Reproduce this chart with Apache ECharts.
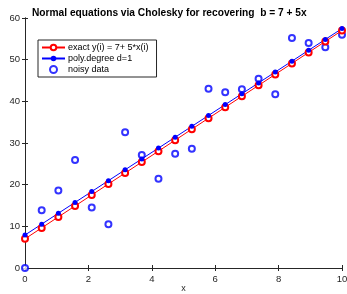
<!DOCTYPE html>
<html><head><meta charset="utf-8">
<script src="https://cdn.jsdelivr.net/npm/echarts@6/dist/echarts.min.js"></script>
<style>html,body{margin:0;padding:0;background:#fff}#c{width:347px;height:294px}</style>
</head><body><div id="c"></div>
<script>
const xs = [0, 0.5263, 1.0526, 1.5789, 2.1053, 2.6316, 3.1579, 3.6842, 4.2105, 4.7368, 5.2632, 5.7895, 6.3158, 6.8421, 7.3684, 7.8947, 8.4211, 8.9474, 9.4737, 10];
const exactY = [7, 9.63, 12.26, 14.89, 17.53, 20.16, 22.79, 25.42, 28.05, 30.68, 33.32, 35.95, 38.58, 41.21, 43.84, 46.47, 49.11, 51.74, 54.37, 57];
const fitY = [7.92, 10.53, 13.14, 15.74, 18.35, 20.96, 23.57, 26.18, 28.78, 31.39, 34.00, 36.61, 39.22, 41.82, 44.43, 47.04, 49.65, 52.26, 54.86, 57.47];
const noisyY = [0, 13.85, 18.6, 25.9, 14.5, 10.5, 32.6, 27.1, 21.4, 27.4, 28.6, 43.0, 42.2, 42.9, 45.4, 41.7, 55.2, 54.0, 53.0, 56.0];
const seriesNames = ['exact y(i) = 7+ 5*x(i)', 'poly.degree d=1', 'noisy data'];
const titleText = 'Normal equations via Cholesky for recovering  b = 7 + 5x';

const pairs = ys => xs.map((x, i) => [x, ys[i]]);
const axisCol = '#262626';
const font = 'Liberation Sans, Arial, sans-serif';

const chart = echarts.init(document.getElementById('c'));
chart.setOption({
  animation: false,
  title: { text: titleText, left: 27, top: 3, textStyle: { fontSize: 10.2, fontWeight: 'bold', color: '#000', fontFamily: font } },
  grid: { left: 25, right: 5, top: 18, bottom: 26, outerBoundsMode: 'none', containLabel: false },
  legend: {
    orient: 'vertical', left: 38, top: 40, itemGap: 2, itemWidth: 23, itemHeight: 7,
    borderColor: '#262626', borderWidth: 1, padding: [3, 8, 3, 3], backgroundColor: '#fff',
    textStyle: { fontSize: 9, color: '#000', fontFamily: font, padding: [0, 0, 0, -2] },
    data: seriesNames
  },
  xAxis: [
    { type: 'value', min: 0, max: 10, interval: 2, name: 'x', nameLocation: 'middle', nameGap: 16, nameMoveOverlap: false,
      nameTextStyle: { fontSize: 9, color: axisCol, fontFamily: font, verticalAlign: 'top' },
      axisLine: { lineStyle: { color: axisCol, width: 1 } }, axisTick: { inside: true, length: 3, lineStyle: { color: axisCol } },
      axisLabel: { fontSize: 9.5, color: axisCol, fontFamily: font, margin: 6 }, splitLine: { show: false } },
    { type: 'value', min: 0, max: 10, interval: 2, position: 'top',
      axisLine: { lineStyle: { color: axisCol, width: 1 } }, axisTick: { inside: true, length: 3, lineStyle: { color: axisCol } },
      axisLabel: { show: false }, splitLine: { show: false } }
  ],
  yAxis: [
    { type: 'value', min: 0, max: 60, interval: 10,
      axisLine: { show: true, lineStyle: { color: axisCol, width: 1 } }, axisTick: { show: true, inside: true, length: 3, lineStyle: { color: axisCol } },
      axisLabel: { fontSize: 9.5, color: axisCol, fontFamily: font, margin: 5 }, splitLine: { show: false } },
    { type: 'value', min: 0, max: 60, interval: 10, position: 'right',
      axisLine: { show: true, lineStyle: { color: axisCol, width: 1 } }, axisTick: { show: true, inside: true, length: 3, lineStyle: { color: axisCol } },
      axisLabel: { show: false }, splitLine: { show: false } }
  ],
  series: [
    { name: seriesNames[0], type: 'line', data: pairs(exactY), clip: false,
      symbol: 'emptyCircle', symbolSize: 6, lineStyle: { color: '#ff0000', width: 1 },
      itemStyle: { color: '#ff0000', borderColor: '#ff0000', borderWidth: 1 } },
    { name: seriesNames[1], type: 'line', data: pairs(fitY), clip: false,
      symbol: 'circle', symbolSize: 5, lineStyle: { color: '#0000ff', width: 1 },
      itemStyle: { color: '#0000ff' } },
    { name: seriesNames[2], type: 'scatter', data: pairs(noisyY), clip: false,
      symbol: 'emptyCircle', symbolSize: 6,
      itemStyle: { color: '#0000ff', borderColor: '#0000ff', borderWidth: 1.8 } }
  ]
});
</script></body></html>
